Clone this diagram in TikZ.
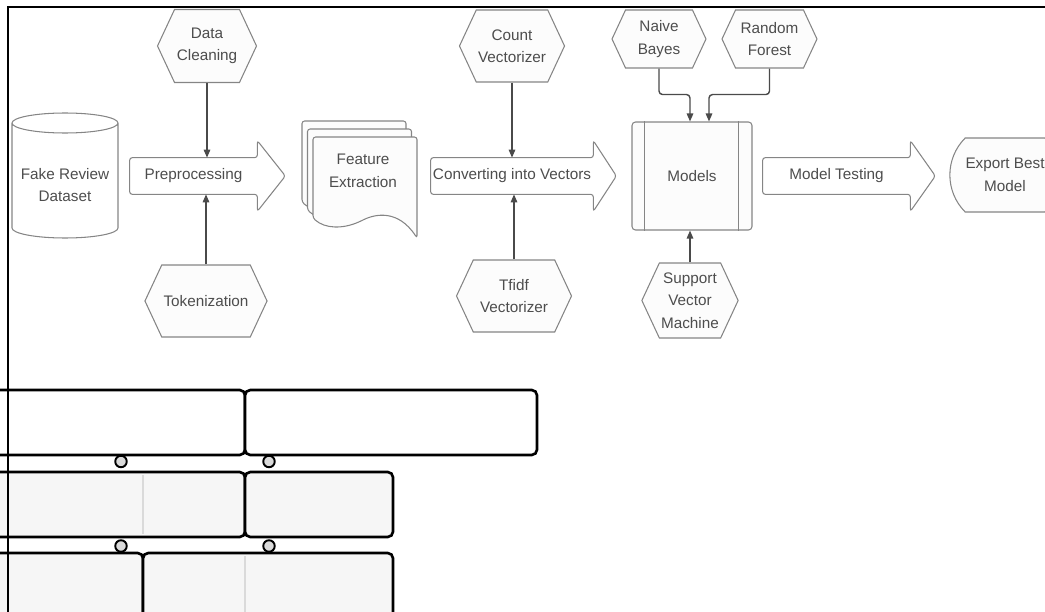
\documentclass[tikz,border=0pt]{standalone}
\usepackage{fontspec}
\setmainfont{Liberation Sans}
\usetikzlibrary{arrows.meta, positioning, calc, shapes.symbols, shapes.misc}

\begin{document}
\begin{tikzpicture}[
    every node/.style={font=\fontsize{8.7}{12.8}\selectfont},
]

% ---------------------------------------------------------------- colours
\definecolor{ink}{HTML}{4D4D4D}       % all the words
\definecolor{outline}{HTML}{858585}   % the flow shapes
\definecolor{paper}{HTML}{FCFCFC}
\definecolor{wire}{HTML}{4A4A4A}      % the feeding connectors
\definecolor{lane}{HTML}{F6F6F6}
\definecolor{seam}{HTML}{DADADA}

% ================================================================
% Geometry, origin at the top left corner, y runs down (negative).
%
%   page 20.9 x 12.24, thin frame on the top and left edges only
%   main flow on one line, y = -3.52:
%     dataset (1.3) -> preprocessing -> documents -> vectors
%     -> models (13.84) -> model testing -> export (runs off the page)
%   feeders: hexagons above (y about -0.9) and below (y about -6)
%   bottom band y < -7.8: cut-off strip of lanes, only shapes
% ================================================================

\tikzset{
    hexa/.style={
        signal, signal to=west and east, signal pointer angle=130,
        draw=outline, fill=paper, line width=0.6pt,
        text=ink, align=center, inner sep=1pt,
    },
    shaft/.style={text=ink, minimum height=0.72cm, inner sep=0pt},
    blockline/.style={draw=outline, line width=0.6pt, rounded corners=1.5pt},
    feed/.style={
        draw=wire, line width=0.8pt,
        -{Triangle[length=1.6mm, width=1.3mm]},
    },
    lanebox/.style={draw=black, line width=1.5pt, rounded corners=3pt},
    knob/.style={draw=black, line width=1.1pt, fill=seam},
}

\useasboundingbox (0,0) rectangle (20.9,-12.24);
\clip (0,0) rectangle (20.9,-12.24);

% ---------------------------------------------------------------- the data
% drum: sides from 1.24 above the text centre to 0.86 below, rim 0.2 deep
\node[text=ink, align=center] (data) at (1.30,-3.70) {Fake Review\\Dataset};
\draw[draw=outline, line width=0.6pt]
    ($(data.center)+(-1.06,1.24)$) -- ($(data.center)+(-1.06,-0.86)$)
    arc[start angle=180, end angle=360, x radius=1.06, y radius=0.2]
    -- ($(data.center)+(1.06,1.24)$)
    arc[start angle=0, end angle=180, x radius=1.06, y radius=0.2]
    arc[start angle=180, end angle=360, x radius=1.06, y radius=0.2];

% ---------------------------------------------------------------- block arrows
\node[shaft, minimum width=2.54cm] (pre)  at (3.87,-3.52)  {Preprocessing};
\node[shaft, minimum width=3.24cm] (conv) at (10.24,-3.52) {Converting into Vectors};
\node[shaft, minimum width=2.94cm] (test) at (16.73,-3.52) {Model Testing};

\foreach \n/\h in {pre/0.56, conv/0.46, test/0.5} {
    \draw[blockline] (\n.south west) -- (\n.north west) -- (\n.north east)
        -- ++(0,0.34) -- ($(\n.east)+(\h,0)$) -- ($(\n.south east)+(0,-0.34)$)
        -- (\n.south east) -- cycle;
}

% ---------------------------------------------------------------- feature documents
\coordinate (doc) at (6.26,-2.74);   % top left of the front sheet
\foreach \s in {2,1,0} {
    \draw[blockline, fill=paper, shift={($(doc)+(-0.11*\s,0.16*\s)$)}]
        (2.08,-2.02) .. controls (1.7,-1.44) and (1.24,-1.54) .. (0.96,-1.68)
        .. controls (0.6,-1.84) and (0.24,-1.84) .. (0,-1.62)
        -- (0,0) -- (2.08,0) -- cycle;
}
\node[text=ink, align=center] (feat) at ($(doc)+(1.0,-0.68)$) {Feature\\Extraction};

% ---------------------------------------------------------------- feeders
\node[hexa, minimum width=1.98cm, minimum height=1.46cm] (clean)  at (4.14,-0.92)  {Data\\Cleaning};
\node[hexa, minimum width=2.34cm, minimum height=1.44cm] (token)  at (4.12,-6.02)  {Tokenization};
\node[hexa, minimum width=1.78cm, minimum height=1.44cm] (count)  at (10.24,-0.92) {Count\\Vectorizer};
\node[hexa, minimum width=2.3cm,  minimum height=1.44cm] (tfidf)  at (10.28,-5.92) {Tfidf\\Vectorizer};
\node[hexa, minimum width=1.88cm, minimum height=1.16cm] (bayes)  at (13.18,-0.78) {Naive\\Bayes};
\node[hexa, minimum width=1.9cm,  minimum height=1.16cm] (forest) at (15.39,-0.78) {Random\\Forest};
\node[hexa, minimum width=1.92cm, minimum height=1.5cm]  (svm)    at (13.8,-6.01)  {Support\\Vector\\Machine};

% ---------------------------------------------------------------- models and export
\node[draw=outline, fill=paper, line width=0.6pt, rounded corners=2pt,
      minimum width=2.4cm, minimum height=2.16cm, text=ink]
    (models) at (13.84,-3.52) {Models};
\draw[draw=outline, line width=0.6pt]
    ($(models.north west)+(0.26,0)$) -- ($(models.south west)+(0.26,0)$);
\draw[draw=outline, line width=0.6pt]
    ($(models.north east)+(-0.28,0)$) -- ($(models.south east)+(-0.28,0)$);

\node[rounded rectangle, rounded rectangle arc length=90,
      draw=outline, fill=paper, line width=0.6pt, text=ink, align=center,
      minimum width=2.44cm, minimum height=1.48cm]
    (export) at (20.1,-3.5) {Export Best\\Model};

% ---------------------------------------------------------------- connectors
\draw[feed] (clean.south) -- (clean.south |- pre.north);
\draw[feed] (token.north) -- (token.north |- pre.south);
\draw[feed] (count.south) -- (count.south |- conv.north);
\draw[feed] (tfidf.north) -- (tfidf.north |- conv.south);
\draw[feed, rounded corners=2pt] (bayes.south) -- ++(0,-0.52) -| ($(models.north)+(-0.04,0)$);
\draw[feed, rounded corners=2pt] (forest.south) -- ++(0,-0.52) -| ($(models.north)+(0.34,0)$);
\draw[feed] (svm.north) -- (svm.north |- models.south);

% ---------------------------------------------------------------- cut-off lanes
\foreach \xa/\xb/\ya/\yb/\f in {
    -0.2/4.9/-7.8/-9.1/white, 4.9/10.74/-7.8/-9.1/white,
    -0.2/4.9/-9.44/-10.74/lane, 4.9/7.86/-9.44/-10.74/lane,
    -0.2/2.86/-11.06/-12.6/lane, 2.86/7.86/-11.06/-12.6/lane} {
    \draw[lanebox, fill=\f] (\xa,\ya) rectangle (\xb,\yb);
}
\draw[seam, line width=0.8pt] (2.86,-9.5) -- (2.86,-10.68);
\draw[seam, line width=0.8pt] (4.9,-11.12) -- (4.9,-12.3);

\foreach \x in {2.42,5.38} {
    \foreach \y in {-9.23,-10.92} {
        \draw[knob] (\x,\y) circle (0.115);
    }
}

% ---------------------------------------------------------------- frame
\draw[line width=0.7pt] (0.16,-12.3) -- (0.16,-0.14) -- (21,-0.14);

\end{tikzpicture}
\end{document}
